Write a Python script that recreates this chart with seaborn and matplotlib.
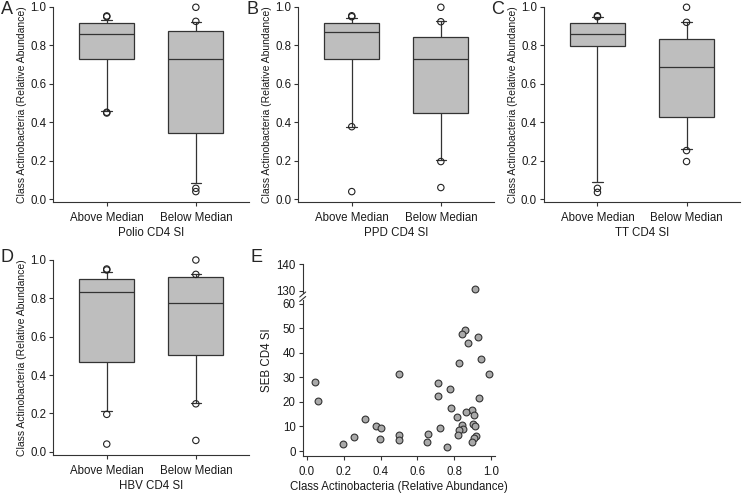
import numpy as np
import pandas as pd
import seaborn as sns
import matplotlib
matplotlib.use("Agg")
import matplotlib.pyplot as plt
from matplotlib.lines import Line2D

# ==========================
# DATA
# ==========================
groups = ["Above Median", "Below Median"]

# box summaries: [10th, 25th, median, 75th, 90th percentile]
polio_above = [0.458, 0.730, 0.856, 0.917, 0.931]
polio_below = [0.087, 0.346, 0.727, 0.874, 0.920]
ppd_above = [0.377, 0.730, 0.867, 0.917, 0.940]
ppd_below = [0.204, 0.448, 0.727, 0.841, 0.924]
tt_above = [0.092, 0.798, 0.860, 0.913, 0.945]
tt_below = [0.260, 0.426, 0.685, 0.830, 0.920]
hbv_above = [0.214, 0.466, 0.835, 0.899, 0.940]
hbv_below = [0.254, 0.504, 0.777, 0.910, 0.925]

# points outside the whiskers
polio_above_out = [0.448, 0.452, 0.948, 0.952]
polio_below_out = [0.040, 0.057, 0.924, 0.997]
ppd_above_out = [0.040, 0.377, 0.948, 0.953]
ppd_below_out = [0.061, 0.196, 0.922, 0.997]
tt_above_out = [0.036, 0.057, 0.948, 0.953]
tt_below_out = [0.196, 0.253, 0.919, 0.997]
hbv_above_out = [0.040, 0.195, 0.948, 0.953]
hbv_below_out = [0.059, 0.250, 0.925, 1.000]

# panel E scatter
seb_x = [0.043, 0.061, 0.197, 0.254, 0.317, 0.375, 0.402, 0.398, 0.500, 0.498,
         0.498, 0.651, 0.656, 0.710, 0.714, 0.723, 0.762,
         0.913, 0.860, 0.841, 0.931, 0.873, 0.944, 0.824, 0.989, 0.779, 0.936,
         0.781, 0.897, 0.864, 0.908, 0.814, 0.904, 0.913, 0.842, 0.849, 0.828,
         0.819, 0.917, 0.908, 0.897]
seb_y = [28.1, 20.4, 2.9, 5.7, 13.0, 10.2, 9.4, 4.8, 31.5, 6.5,
         4.5, 3.5, 6.9, 27.8, 22.3, 9.2, 1.5,
         130.5, 49.3, 47.5, 46.6, 43.9, 37.5, 35.8, 31.2, 25.1, 21.5,
         17.4, 16.8, 15.8, 14.8, 14.0, 11.1, 10.1, 10.5, 9.1, 8.4,
         6.4, 6.2, 5.2, 3.8]

ylab = "Class Actinobacteria (Relative Abundance)"
panels = [
    ("A", "Polio CD4 SI", polio_above, polio_below, polio_above_out, polio_below_out),
    ("B", "PPD CD4 SI", ppd_above, ppd_below, ppd_above_out, ppd_below_out),
    ("C", "TT CD4 SI", tt_above, tt_below, tt_above_out, tt_below_out),
    ("D", "HBV CD4 SI", hbv_above, hbv_below, hbv_above_out, hbv_below_out),
]

# ==========================
# STYLE
# ==========================
sns.set_theme(style="ticks")
plt.rcParams["font.family"] = ["Liberation Sans", "DejaVu Sans"]
plt.rcParams["font.size"] = 8
plt.rcParams["axes.linewidth"] = 0.8
plt.rcParams["axes.edgecolor"] = "#333333"

W, H = 742, 494
fig = plt.figure(figsize=(W / 100, H / 100), dpi=100)


def px_axes(left, top, right, bottom):
    return fig.add_axes([left / W, 1 - bottom / H, (right - left) / W, (bottom - top) / H])


def style_axes(ax):
    sns.despine(ax=ax)
    ax.tick_params(axis="both", length=3, width=0.8, color="#333333",
                   labelsize=8.3, labelcolor="#1a1a1a")
    ax.tick_params(axis="x", pad=4.5)
    ax.tick_params(axis="y", pad=2)


box_pos = [(53.3, 6.7, 249.3, 202), (298.3, 6.7, 494.3, 202),
           (544, 6.7, 740, 202), (53.3, 260, 249.3, 455)]
letter_pos = [(1, 1), (246, 1), (491, 1), (1, 249)]

for (letter, xlab, above, below, above_out, below_out), pos, lp in zip(panels, box_pos, letter_pos):
    ax = px_axes(*pos)
    df = pd.DataFrame({"group": [groups[0]] * len(above) + [groups[1]] * len(below),
                       "value": above + below})
    out = pd.DataFrame({"group": [groups[0]] * len(above_out) + [groups[1]] * len(below_out),
                        "value": above_out + below_out})
    sns.boxplot(data=df, x="group", y="value", order=groups, ax=ax,
                color="#bebebe", saturation=1, width=0.62, whis=(0, 100),
                showfliers=False, linecolor="#333333", linewidth=0.9,
                capwidths=0.12)
    sns.stripplot(data=out, x="group", y="value", order=groups, ax=ax,
                  jitter=False, size=4.6, facecolor="none", edgecolor="#222222",
                  linewidth=0.8, clip_on=False, zorder=5)
    ax.set_xlim(-0.6, 1.6)
    ax.set_ylim(-0.014 if letter != "D" else -0.017, 1.0)
    ax.set_yticks(np.arange(0, 1.01, 0.2))
    ax.set_yticklabels([f"{v:.1f}" for v in np.arange(0, 1.01, 0.2)])
    style_axes(ax)
    ax.set_xlabel(xlab, fontsize=8.3, color="#1a1a1a")
    ax.set_ylabel(ylab, fontsize=7.5, color="#1a1a1a")
    ax.xaxis.set_label_coords(0.5, -0.13)
    ax.yaxis.set_label_coords(-0.135, 0.5)
    fig.text(lp[0] / W, 1 - lp[1] / H, letter, fontsize=13, ha="left", va="top")

# ==========================
# PANEL E (broken y axis)
# ==========================
seb = pd.DataFrame({"x": seb_x, "y": seb_y})
ax_t = px_axes(302.7, 264.3, 495.3, 293.3)
ax_b = px_axes(302.7, 300.3, 495.3, 455.7)

for ax, sub in [(ax_t, seb[seb["y"] > 100]), (ax_b, seb[seb["y"] <= 100])]:
    sns.scatterplot(data=sub, x="x", y="y", ax=ax, s=24, color="#a9a9a9",
                    edgecolor="#333333", linewidth=0.8, clip_on=False, legend=False)
    ax.set_xlim(-0.023, 1.024)
    style_axes(ax)
    ax.set_ylabel("")

ax_t.set_ylim(129, 140)
ax_t.set_yticks([130, 140])
ax_t.spines["bottom"].set_visible(False)
ax_t.tick_params(axis="x", bottom=False, labelbottom=False)
ax_t.set_xlabel("")

ax_b.set_ylim(-1.9, 61.4)
ax_b.set_yticks(np.arange(0, 61, 10))
ax_b.set_xticks(np.arange(0, 1.01, 0.2))
ax_b.set_xticklabels([f"{v:.1f}" for v in np.arange(0, 1.01, 0.2)])
ax_b.set_xlabel(ylab, fontsize=8.3, color="#1a1a1a")
ax_b.xaxis.set_label_coords(0.5, -0.165)

# break marks on the y axis
for yb in (294.5, 299.0):
    fig.add_artist(Line2D([299.7 / W, 305.7 / W], [1 - (yb + 2.5) / H, 1 - (yb - 2.5) / H],
                          color="#333333", lw=0.8))

fig.text(266.7 / W, 1 - 360 / H, "SEB CD4 SI", rotation=90, fontsize=8.3,
         ha="center", va="center", color="#1a1a1a")
fig.text(251 / W, 1 - 249 / H, "E", fontsize=13, ha="left", va="top")

fig.savefig("out.png", dpi=100)
